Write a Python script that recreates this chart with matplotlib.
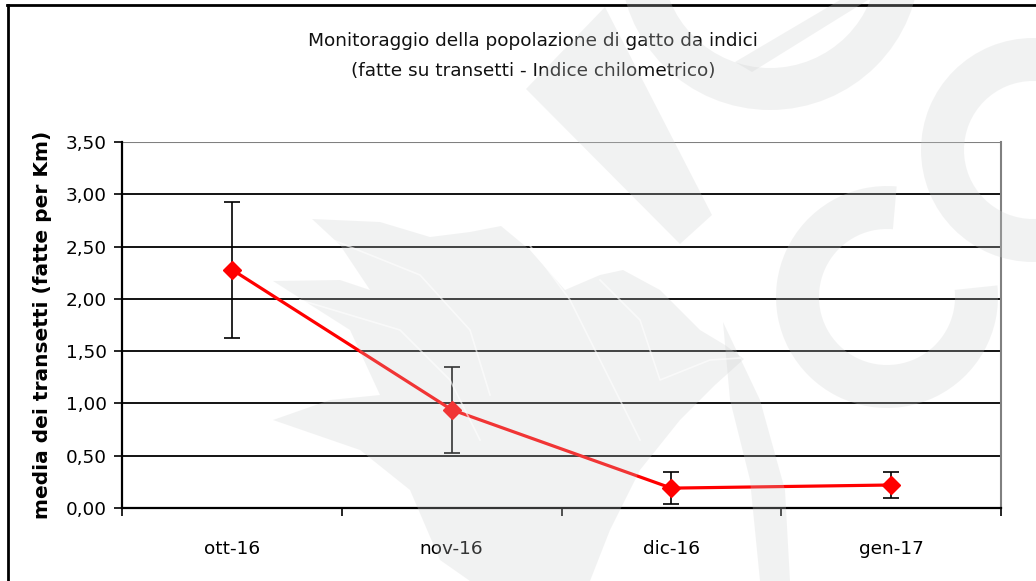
import matplotlib
matplotlib.use("Agg")
import matplotlib.pyplot as plt
from matplotlib.patches import Wedge, Polygon
from matplotlib.ticker import FixedLocator, FuncFormatter
import numpy as np

plt.rcParams['font.family'] = ['DejaVu Sans']

# ---- data ----
categories = ["ott-16", "nov-16", "dic-16", "gen-17"]
means = [2.28, 0.94, 0.19, 0.22]
errors = [0.65, 0.41, 0.15, 0.12]
yticks = [0.0, 0.5, 1.0, 1.5, 2.0, 2.5, 3.0, 3.5]
title = "Monitoraggio della popolazione di gatto da indici\n(fatte su transetti - Indice chilometrico)"
ylabel = "media dei transetti (fatte per Km)"

W, H = 1036, 581
fig = plt.figure(figsize=(W / 100, H / 100), dpi=100)
fig.patch.set_facecolor("white")

ax = fig.add_axes([122 / W, 1 - 508 / H, 879 / W, 366 / H])
x = np.arange(len(categories))
ax.set_xlim(-0.5, len(categories) - 0.5)
ax.set_ylim(yticks[0], yticks[-1])

for yv in yticks[1:]:
    ax.axhline(yv, color="black", lw=1.3, zorder=1)
ax.axhline(yticks[-1], color="#808080", lw=1.5, zorder=1.1)

ax.errorbar(x, means, yerr=errors, fmt="none", ecolor="black", elinewidth=1.2,
            capsize=5.5, capthick=1.2, zorder=2)
ax.plot(x, means, color="#ff0000", lw=2.3, marker="D", markersize=9.5,
        markerfacecolor="#ff0000", markeredgecolor="#ff0000", zorder=3)

ax.yaxis.set_major_locator(FixedLocator(yticks))
ax.yaxis.set_major_formatter(FuncFormatter(lambda v, p: f"{v:.2f}".replace(".", ",")))
ax.xaxis.set_major_locator(FixedLocator(x))
ax.set_xticklabels(categories)
ax.xaxis.set_minor_locator(FixedLocator(np.arange(len(categories) + 1) - 0.5))
ax.tick_params(axis="x", which="major", length=0, pad=23, labelsize=13.3)
ax.tick_params(axis="x", which="minor", length=6, width=1.2, direction="out", color="black")
ax.tick_params(axis="y", length=6, width=1.2, direction="out", labelsize=13.3, pad=5)

for s in ["left", "bottom"]:
    ax.spines[s].set_color("black")
    ax.spines[s].set_linewidth(1.6)
ax.spines["right"].set_color("#808080")
ax.spines["right"].set_linewidth(1.5)
ax.spines["top"].set_visible(False)
ax.set_facecolor("none")

ax.set_ylabel(ylabel, fontsize=14.5, fontweight="bold")
ax.yaxis.set_label_coords(-70 / 879, 0.5)

fig.text(533 / W, 1 - 56 / H, title, ha="center", va="center", fontsize=13.3,
         linespacing=1.85, color="#111111")

# outer frame (top & left visible)
fig.add_artist(plt.Line2D([7 / W, 1], [1 - 5 / H, 1 - 5 / H], color="black", lw=2.0,
                          transform=fig.transFigure))
fig.add_artist(plt.Line2D([8 / W, 8 / W], [0, 1 - 5 / H], color="black", lw=2.0,
                          transform=fig.transFigure))

# ---- watermark overlay (pixel coords, y down -> converted) ----
wm = fig.add_axes([0, 0, 1, 1], zorder=10)
wm.set_xlim(0, W)
wm.set_ylim(0, H)
wm.axis("off")
wm.patch.set_alpha(0)
wcol = (0.80, 0.81, 0.81)
walpha = 0.26


def P(pts):
    return [(px, H - py) for px, py in pts]


shapes = []
# right "G"
shapes.append(Wedge((887, H - 297), 111, 85, 366, width=43))
# far right ring
shapes.append(Wedge((1033, H - 150), 112, 0, 360, width=43))
# top "e"
shapes.append(Wedge((770, H + 40), 150, 180, 360, width=42))
shapes.append(Polygon(P([(735, 62), (752, 72), (868, 0), (840, 0)])))
# "r" stem
shapes.append(Polygon(P([(526, 89), (605, 7), (712, 215), (680, 244)])))
# bird / sail silhouette
shapes.append(Polygon(P([
    (312, 219), (380, 222), (430, 237), (470, 232), (501, 226), (530, 250),
    (565, 290), (600, 275), (623, 270), (660, 290), (700, 330), (725, 345),
    (744, 359), (715, 385), (680, 420), (640, 470), (610, 530), (590, 581),
    (470, 581), (440, 560), (410, 490), (360, 450), (273, 420),
    (330, 400), (380, 395), (350, 330), (273, 281), (340, 280), (370, 290),
    (340, 245)])))
# right thin feather
shapes.append(Polygon(P([(723, 322), (760, 400), (785, 490), (790, 581),
                         (760, 581), (750, 480), (730, 400)])))

for s in shapes:
    s.set_facecolor(wcol)
    s.set_edgecolor("none")
    s.set_alpha(walpha)
    wm.add_patch(s)

# thin white separation lines inside the sail
for line in [[(333, 240), (420, 275), (470, 330), (490, 395)],
             [(300, 300), (400, 330), (450, 380), (480, 440)],
             [(520, 232), (570, 300), (610, 380), (640, 440)],
             [(600, 280), (640, 320), (660, 380), (710, 360), (740, 358)]]:
    xs, ys = zip(*P(line))
    wm.plot(xs, ys, color="white", lw=1.2, alpha=0.6)

fig.savefig("out.png", dpi=100, facecolor="white")
